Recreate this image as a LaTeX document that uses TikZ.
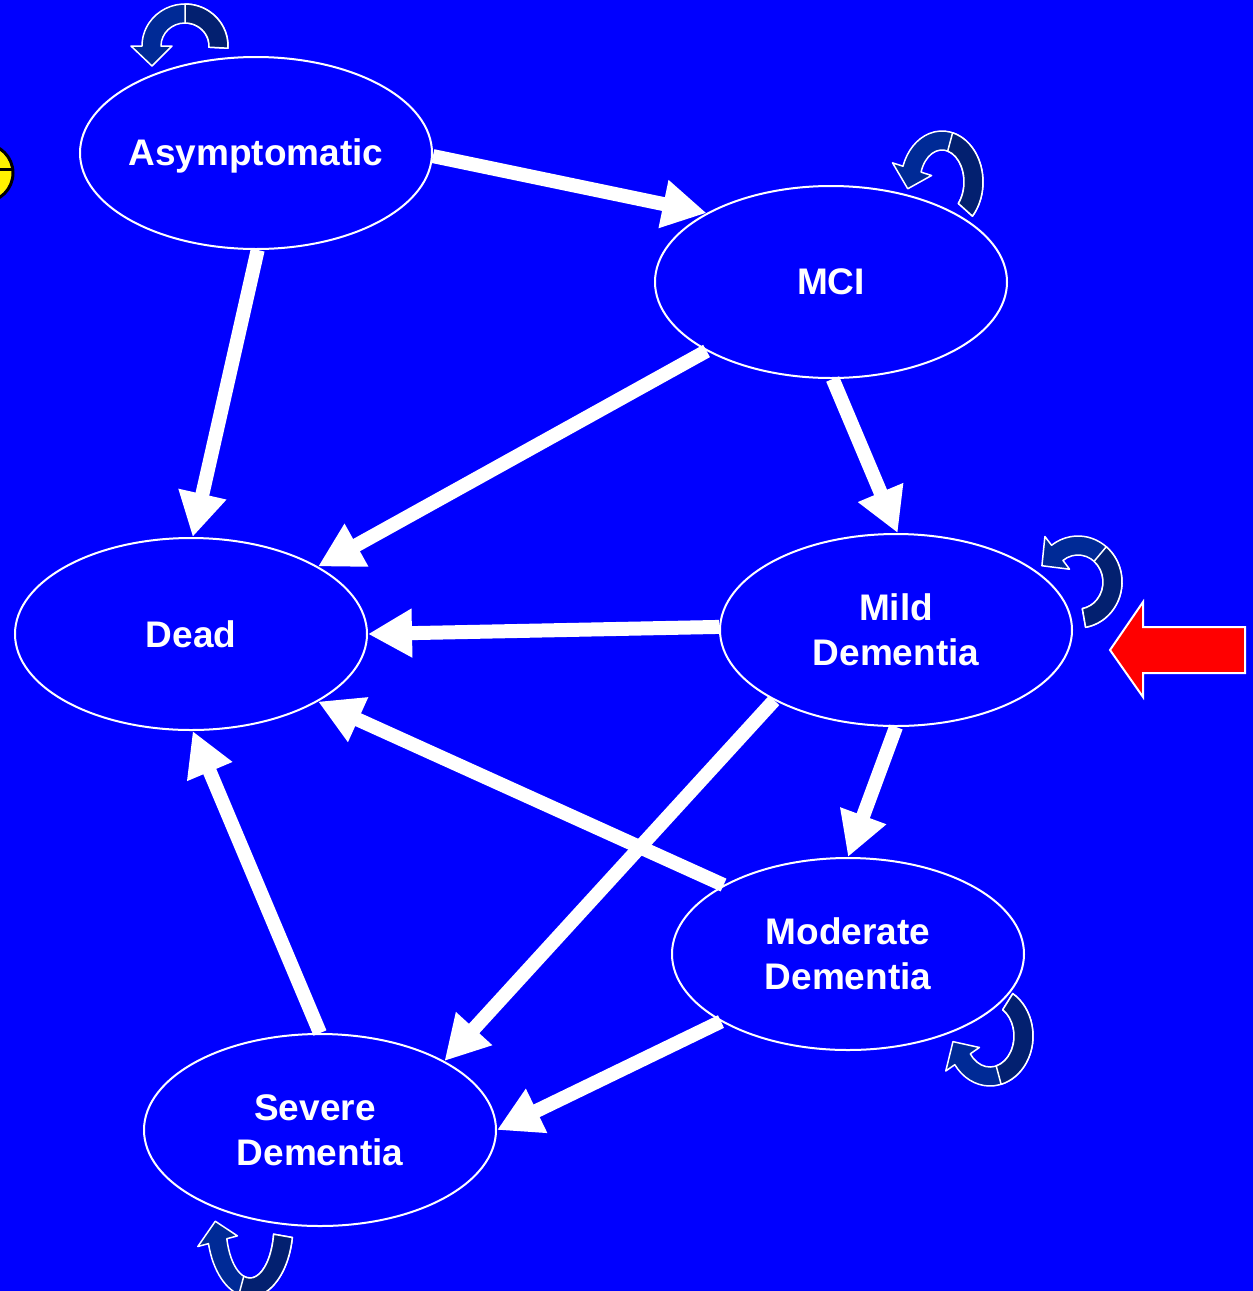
\documentclass[tikz,border=0pt]{standalone}
\usepackage{fontspec}
\setmainfont{Liberation Sans}
\usetikzlibrary{arrows.meta,calc,shapes.geometric}
\definecolor{bg}{RGB}{0,0,255}
\definecolor{loophead}{RGB}{0,42,150}
\definecolor{looptail}{RGB}{3,32,112}
\newcommand\loopArrow[8]{%
 \pgfmathsetmacro\lpTx{-(#7)*(#3)*sin(#6)}%
 \pgfmathsetmacro\lpTy{(#7)*(#4)*cos(#6)}%
 \pgfmathsetmacro\lpTn{veclen(\lpTx,\lpTy)}%
 \pgfmathsetmacro\lpX{#1+(#3)*cos(#6)+20*\lpTx/\lpTn}%
 \pgfmathsetmacro\lpY{-(#2)+(#4)*sin(#6)+20*\lpTy/\lpTn}%
 \pgfmathsetmacro\lpRo{#3+10}\pgfmathsetmacro\lpSo{#4+10}%
 \pgfmathsetmacro\lpRi{#3-9}\pgfmathsetmacro\lpSi{#4-9}%
 \pgfmathsetmacro\lpRw{#3+21}\pgfmathsetmacro\lpSw{#4+21}%
 \pgfmathsetmacro\lpRv{#3-20}\pgfmathsetmacro\lpSv{#4-20}%
 \filldraw[loopbody, fill=loophead]
  ($(#1,-#2)+(#5:\lpRo pt and \lpSo pt)$) arc[start angle=#5, end angle=#6, x radius=\lpRo pt, y radius=\lpSo pt]
  -- ($(#1,-#2)+(#6:\lpRw pt and \lpSw pt)$) -- (\lpX,\lpY) -- ($(#1,-#2)+(#6:\lpRv pt and \lpSv pt)$)
  -- ($(#1,-#2)+(#6:\lpRi pt and \lpSi pt)$) arc[start angle=#6, end angle=#5, x radius=\lpRi pt, y radius=\lpSi pt] -- cycle;
 \filldraw[loopbody, fill=looptail]
  ($(#1,-#2)+(#5:\lpRo pt and \lpSo pt)$) arc[start angle=#5, end angle=#8, x radius=\lpRo pt, y radius=\lpSo pt]
  -- ($(#1,-#2)+(#8:\lpRi pt and \lpSi pt)$) arc[start angle=#8, end angle=#5, x radius=\lpRi pt, y radius=\lpSi pt] -- cycle;
}
\begin{document}
\begin{tikzpicture}[x=1pt,y=1pt,
 state/.style={ellipse, draw=white, line width=2pt, fill=bg, minimum width=352pt, minimum height=192pt, inner sep=0pt},
 lbl/.style={text=white, font=\fontsize{37}{45}\selectfont\bfseries, align=center, inner sep=0pt},
 flow/.style={draw=white, line width=14pt, -{Triangle[width=46pt,length=44pt]}},
 loopbody/.style={draw=white, line width=1.5pt, line join=round},
 ]
\useasboundingbox (0,0) rectangle (1253,-1291);
\fill[bg] (0,0) rectangle (1253,-1291);
\clip (0,0) rectangle (1253,-1291);

% partial yellow sign at left edge
\filldraw[fill=yellow, draw=black, line width=3pt] (-16,-173) circle[radius=29pt];
\draw[black, line width=3pt] (-16,-169) -- (12,-169);

% states
\node[state] (asym) at (256,-153) {};
\node[state] (mci)  at (831,-282) {};
\node[state] (dead) at (191,-634) {};
\node[state] (mild) at (896,-630) {};
\node[state] (mod)  at (848,-954) {};
\node[state] (sev)  at (320,-1130) {};

\node[lbl] (asymT) at ([yshift=-3pt]asym.center) {Asymptomatic};
\node[lbl] (mciT)  at (mci)  {MCI};
\node[lbl] (deadT) at (dead) {Dead};
\node[lbl] (mildT) at (mild) {Mild\\Dementia};
\node[lbl] (modT)  at (mod)  {Moderate\\Dementia};
\node[lbl] (sevT)  at (sev)  {\hspace*{-10pt}Severe\\Dementia};

% transitions
\draw[flow] (asym.-1) -- (mci.151);
\draw[flow] (asym.-89) -- (dead.89);
\draw[flow] (mci.209) -- (dead.28);
\draw[flow] (mci.-89) -- (mild.89);
\draw[flow] (mild.179) -- (dead.0);
\draw[flow] (mild.210) -- (sev.29);
\draw[flow] (mild.-90) -- (mod.90);
\draw[flow] (mod.151) -- (dead.-28);
\draw[flow] (mod.208) -- (sev.0);
\draw[flow] (sev.90) -- (dead.-89);

% self loops
\loopArrow{185}{46}{33}{32}{-3}{180}{1}{90}
\loopArrow{942}{182}{31}{41}{-42}{162}{1}{75}
\loopArrow{1078}{582}{34}{36}{-80}{127}{1}{50}
\loopArrow{990}{1036}{33}{40}{58}{-145}{-1}{-75}
\loopArrow{250}{1225}{33}{62}{-10}{-165}{-1}{-105}

% red pointer
\filldraw[fill=red, draw=white, line width=2pt, line join=miter]
 (1110,-650) -- (1143,-602) -- (1143,-627) -- (1245,-627) -- (1245,-673) -- (1143,-673) -- (1143,-697) -- cycle;
\end{tikzpicture}
\end{document}
